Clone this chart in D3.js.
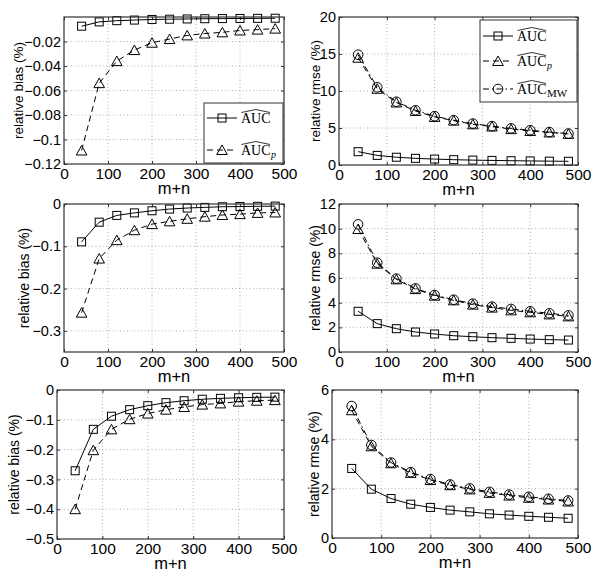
<!DOCTYPE html>
<html><head><meta charset="utf-8">
<script src="https://cdn.jsdelivr.net/npm/d3@7"></script>
<style>body{margin:0;background:#fff}svg{display:block}</style>
</head><body>
<script>
// ---------------- data ----------------
const xVals = [40, 80, 120, 160, 200, 240, 280, 320, 360, 400, 440, 480];
const xTicks = [0, 100, 200, 300, 400, 500];

// row 1
const bias1Auc  = [-0.0075, -0.004, -0.003, -0.0025, -0.002, -0.0018, -0.0016, -0.0014, -0.0013, -0.0012, -0.0011, -0.001];
const bias1AucP = [-0.109, -0.054, -0.036, -0.027, -0.021, -0.018, -0.015, -0.0135, -0.0125, -0.011, -0.0103, -0.0095];
const rmse1Auc   = [1.8, 1.3, 1.05, 0.9, 0.8, 0.72, 0.66, 0.62, 0.58, 0.55, 0.52, 0.5];
const rmse1AucP  = [14.5, 10.3, 8.45, 7.3, 6.5, 6.0, 5.5, 5.2, 4.85, 4.6, 4.4, 4.2];
const rmse1AucMW = [14.9, 10.5, 8.55, 7.4, 6.6, 6.05, 5.6, 5.25, 4.95, 4.7, 4.45, 4.25];
// row 2
const bias2Auc  = [-0.0895, -0.043, -0.027, -0.021, -0.016, -0.012, -0.0095, -0.008, -0.0065, -0.006, -0.0055, -0.005];
const bias2AucP = [-0.257, -0.129, -0.0855, -0.062, -0.0475, -0.041, -0.035, -0.030, -0.026, -0.024, -0.021, -0.02];
const rmse2Auc   = [3.3, 2.3, 1.89, 1.62, 1.46, 1.32, 1.24, 1.16, 1.11, 1.05, 1.0, 0.97];
const rmse2AucP  = [9.97, 7.16, 5.89, 5.1, 4.57, 4.19, 3.84, 3.6, 3.38, 3.22, 3.05, 2.89];
const rmse2AucMW = [10.35, 7.24, 5.95, 5.16, 4.62, 4.24, 3.92, 3.68, 3.49, 3.3, 3.14, 2.97];
// row 3
const bias3Auc  = [-0.271, -0.132, -0.088, -0.066, -0.0526, -0.0425, -0.036, -0.031, -0.028, -0.026, -0.0246, -0.024];
const bias3AucP = [-0.40, -0.202, -0.132, -0.098, -0.079, -0.066, -0.057, -0.049, -0.045, -0.039, -0.036, -0.034];
const rmse3Auc   = [2.82, 1.98, 1.6, 1.37, 1.24, 1.13, 1.06, 0.98, 0.93, 0.88, 0.84, 0.8];
const rmse3AucP  = [5.18, 3.72, 3.03, 2.64, 2.35, 2.14, 1.97, 1.83, 1.72, 1.63, 1.56, 1.48];
const rmse3AucMW = [5.35, 3.77, 3.06, 2.67, 2.39, 2.17, 2.01, 1.87, 1.76, 1.67, 1.59, 1.52];

// y ticks
const bias1Ticks = [-0.12, -0.1, -0.08, -0.06, -0.04, -0.02];
const rmse1Ticks = [0, 5, 10, 15, 20];
const bias2Ticks = [-0.3, -0.2, -0.1, 0];
const rmse2Ticks = [0, 2, 4, 6, 8, 10, 12];
const bias3Ticks = [-0.5, -0.4, -0.3, -0.2, -0.1, 0];
const rmse3Ticks = [0, 2, 4, 6];

const xLabel = "m+n";
const biasLabel = "relative bias (%)";
const rmseLabel = "relative rmse (%)";

// ---------------- layout / style ----------------
const styles = {
  auc:  {dash: null, marker: "square"},
  aucP: {dash: "6,4", marker: "triangle"},
  aucMW:{dash: "6,3,1.5,3", marker: "circle"}
};
const panels = [
  {box:[64,284,17,164], yDom:[-0.12,0], yTicks:bias1Ticks, ylab:biasLabel, ylx:23, ylfs:13.5,
   series:[["auc",bias1Auc],["aucP",bias1AucP]], legend:{box:[204,283,103,163], keys:["auc","aucP"], rows:[118,150]}},
  {box:[339,578,17,165], yDom:[0,20], yTicks:rmse1Ticks, ylab:rmseLabel, ylx:320, ylfs:13.5,
   series:[["auc",rmse1Auc],["aucP",rmse1AucP],["aucMW",rmse1AucMW]], legend:{box:[480,577,20,102], keys:["auc","aucP","aucMW"], rows:[36,61,89]}},
  {box:[64,284,204,352], yDom:[-0.35,0], yTicks:bias2Ticks, ylab:biasLabel, ylx:29, ylfs:14,
   series:[["auc",bias2Auc],["aucP",bias2AucP]]},
  {box:[339,578,204,352], yDom:[0,12], yTicks:rmse2Ticks, ylab:rmseLabel, ylx:320, ylfs:14,
   series:[["auc",rmse2Auc],["aucP",rmse2AucP],["aucMW",rmse2AucMW]]},
  {box:[57,284,390,539], yDom:[-0.5,0], yTicks:bias3Ticks, ylab:biasLabel, ylx:19, ylfs:14,
   series:[["auc",bias3Auc],["aucP",bias3AucP]]},
  {box:[332,578,390,538], yDom:[0,6], yTicks:rmse3Ticks, ylab:rmseLabel, ylx:319, ylfs:14,
   series:[["auc",rmse3Auc],["aucP",rmse3AucP],["aucMW",rmse3AucMW]]}
];

const W = 600, H = 577;
const svg = d3.select("body").append("svg").attr("width", W).attr("height", H)
  .style("font-family", "'Liberation Sans', Arial, sans-serif");

const fmt = v => {
  if (v === 0) return "0";
  let s = String(+v.toFixed(4));
  return s.replace("-", "\u2212");
};

function marker(g, type, cx, cy) {
  if (type === "square") {
    g.append("rect").attr("x", cx-4).attr("y", cy-4).attr("width", 8).attr("height", 8)
      .attr("fill", "none").attr("stroke", "#000").attr("stroke-width", 1);
  } else if (type === "triangle") {
    g.append("path").attr("d", `M${cx},${cy-5}L${cx+5.3},${cy+4.5}L${cx-5.3},${cy+4.5}Z`)
      .attr("fill", "none").attr("stroke", "#000").attr("stroke-width", 1);
  } else {
    g.append("circle").attr("cx", cx).attr("cy", cy).attr("r", 4.8)
      .attr("fill", "none").attr("stroke", "#000").attr("stroke-width", 1);
  }
}

function legendLabel(g, key, x, y) {
  const t = g.append("text").attr("x", x).attr("y", y)
    .style("font-family", "'Liberation Serif','DejaVu Serif',serif").style("font-size", "14px")
    .text("AUC");
  const w = t.node().getComputedTextLength();
  g.append("path").attr("d", `M${x+0.5},${y-10.5}L${x+w/2},${y-13.5}L${x+w-0.5},${y-10.5}`)
    .attr("fill", "none").attr("stroke", "#000").attr("stroke-width", 0.8);
  if (key === "aucP") {
    g.append("text").attr("x", x+w+0.5).attr("y", y+3)
      .style("font-family", "'Liberation Serif','DejaVu Serif',serif").style("font-size", "10px")
      .style("font-style", "italic").text("p");
  } else if (key === "aucMW") {
    g.append("text").attr("x", x+w+0.5).attr("y", y+3)
      .style("font-family", "'Liberation Serif','DejaVu Serif',serif").style("font-size", "11px")
      .text("MW");
  }
}

panels.forEach(p => {
  const [L, R, T, B] = p.box;
  const x = d3.scaleLinear().domain([0, 500]).range([L, R]);
  const y = d3.scaleLinear().domain(p.yDom).range([B, T]);
  const g = svg.append("g");

  // grid
  const grid = g.append("g").attr("stroke", "#9a9a9a").attr("stroke-width", 0.8).attr("stroke-dasharray", "1,2.5");
  xTicks.filter(v => v > 0 && v < 500).forEach(v => {
    grid.append("line").attr("x1", x(v)).attr("x2", x(v)).attr("y1", T).attr("y2", B);
  });
  p.yTicks.filter(v => y(v) > T + 0.5 && y(v) < B - 0.5).forEach(v => {
    grid.append("line").attr("x1", L).attr("x2", R).attr("y1", y(v)).attr("y2", y(v));
  });

  // axes
  const ax = g.append("g").attr("transform", `translate(0,${B})`)
    .call(d3.axisBottom(x).tickValues(xTicks).tickSize(-3).tickPadding(4).tickFormat(fmt));
  const ay = g.append("g").attr("transform", `translate(${L},0)`)
    .call(d3.axisLeft(y).tickValues(p.yTicks).tickSize(-3).tickPadding(3).tickFormat(fmt));
  const at = g.append("g").attr("transform", `translate(0,${T})`)
    .call(d3.axisTop(x).tickValues(xTicks).tickSize(-3).tickFormat(""));
  const ar = g.append("g").attr("transform", `translate(${R},0)`)
    .call(d3.axisRight(y).tickValues(p.yTicks).tickSize(-3).tickFormat(""));
  [ax, ay, at, ar].forEach(a => {
    a.select(".domain").remove();
    a.selectAll("line").attr("stroke", "#333");
    a.selectAll("text").attr("fill", "#000")
      .style("font-family", "'Liberation Sans', Arial, sans-serif");
  });
  ax.selectAll("text").style("font-size", "15.5px");
  ay.selectAll("text").style("font-size", "14.5px");

  // series
  p.series.forEach(([key, vals]) => {
    const st = styles[key];
    const line = d3.line().x((d, i) => x(xVals[i])).y(d => y(d));
    g.append("path").datum(vals).attr("d", line).attr("fill", "none")
      .attr("stroke", "#000").attr("stroke-width", 1)
      .attr("stroke-dasharray", st.dash);
    const mg = g.append("g");
    vals.forEach((v, i) => marker(mg, st.marker, x(xVals[i]), y(v)));
  });

  // box
  g.append("rect").attr("x", L).attr("y", T).attr("width", R - L).attr("height", B - T)
    .attr("fill", "none").attr("stroke", "#333").attr("stroke-width", 1.2);

  // labels
  g.append("text").attr("x", (L + R) / 2).attr("y", B + 30).attr("text-anchor", "middle")
    .style("font-size", "16.5px").text(xLabel);
  g.append("text").attr("transform", `translate(${p.ylx},${(T + B) / 2}) rotate(-90)`)
    .attr("text-anchor", "middle").style("font-size", p.ylfs + "px").text(p.ylab);

  // legend
  if (p.legend) {
    const lg = p.legend;
    const [l0, l1, t0, t1] = lg.box;
    const gl = g.append("g");
    gl.append("rect").attr("x", l0).attr("y", t0).attr("width", l1 - l0).attr("height", t1 - t0)
      .attr("fill", "#fff").attr("stroke", "#333").attr("stroke-width", 1);
    lg.keys.forEach((k, i) => {
      const cy = lg.rows[i];
      const st = styles[k];
      gl.append("line").attr("x1", l0 + 3).attr("x2", l0 + 33).attr("y1", cy).attr("y2", cy)
        .attr("stroke", "#000").attr("stroke-width", 1).attr("stroke-dasharray", st.dash);
      marker(gl, st.marker, l0 + 18, cy);
      legendLabel(gl, k, l0 + 37, cy + 5);
    });
  }
});
</script>
</body></html>
